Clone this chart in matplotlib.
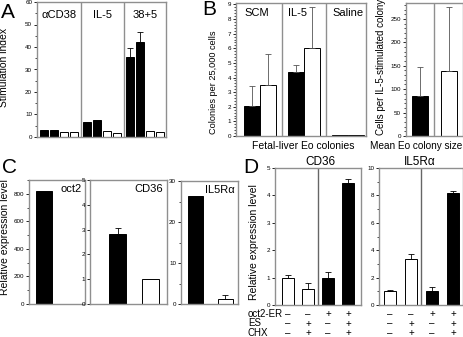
import numpy as np
import matplotlib.pyplot as plt
from matplotlib.ticker import MultipleLocator

plt.rcParams['font.family'] = ['Liberation Sans', 'DejaVu Sans']

# ---- data ----
# A: stimulation index, 3 conditions x 4 samples (2 black, 2 white)
a_groups = ['\u03b1CD38', 'IL-5', '38+5']
a_values = [3.0, 3.2, 2.2, 2.0, 6.5, 7.5, 2.8, 1.8, 35.5, 42.0, 2.7, 2.3]
a_err_top = [0, 0, 0, 0, 0, 0, 0, 0, 39.5, 46.5, 0, 0]
a_fill = ['k', 'k', 'w', 'w'] * 3

# B left: fetal-liver Eo colonies per 25,000 cells
b_groups = ['SCM', 'IL-5', 'Saline']
b_black = [2.05, 4.4, 0.05]
b_black_err = [3.45, 4.85, 0.05]
b_white = [3.5, 6.0, 0.05]
b_white_err = [5.6, 8.8, 0.05]

# B right: mean Eo colony size
b2_values = [85, 138]
b2_err_top = [148, 275]

# C: relative expression level
c_titles = ['oct2', 'CD36', 'IL5R\u03b1']
c_values = [[820, 0], [2.83, 1.0], [26.3, 1.2]]
c_err_top = [[0, 0], [3.05, 0], [0, 2.2]]

# D: relative expression level with oct2-ER / ES / CHX
d_titles = ['CD36', 'IL5R\u03b1']
d_values = [[1.0, 0.6, 1.0, 4.45], [1.0, 3.35, 1.0, 8.2]]
d_err_top = [[1.1, 0.8, 1.2, 4.6], [1.1, 3.7, 1.35, 8.35]]
d_fill = ['w', 'w', 'k', 'k']
d_rows = ['oct2-ER', 'ES', 'CHX']
d_signs = [['\u2013', '\u2013', '+', '+'],
           ['\u2013', '+', '\u2013', '+'],
           ['\u2013', '+', '\u2013', '+']]

W, H = 464, 337
fig = plt.figure(figsize=(W / 100, H / 100), dpi=100)
FRAME = '#8f8f8f'


def px_axes(left, top, right, bottom):
    return fig.add_axes([left / W, 1 - bottom / H, (right - left) / W, (bottom - top) / H])


def ftext(x, y, s, **kw):
    return fig.text(x / W, 1 - y / H, s, **kw)


def style(ax, ymax, major, minor=None):
    ax.set_ylim(0, ymax)
    ax.yaxis.set_major_locator(MultipleLocator(major))
    if minor:
        ax.yaxis.set_minor_locator(MultipleLocator(minor))
    ax.tick_params(axis='y', which='major', length=2.5, width=0.6, labelsize=4.5, pad=1)
    ax.tick_params(axis='y', which='minor', length=1.5, width=0.5)
    ax.set_xticks([])
    for s in ax.spines.values():
        s.set_color(FRAME)
        s.set_linewidth(1.0)


def bars(ax, x, vals, fill, width, err=None, ecolor='k', cap=2.0):
    ax.bar(x, vals, width, color=fill, edgecolor='k', linewidth=0.7, zorder=2)
    if err is not None:
        vals = np.asarray(vals, float)
        up = np.clip(np.asarray(err, float) - vals, 0, None)
        m = up > 0
        if m.any():
            ax.errorbar(np.asarray(x)[m], vals[m], yerr=[np.zeros(m.sum()), up[m]],
                        fmt='none', ecolor=ecolor, elinewidth=0.6, capsize=cap,
                        capthick=0.6, zorder=3)


# ---- A ----
ax = px_axes(37, 2, 166, 137)
xa = np.array([g * 4.3 + j for g in range(3) for j in range(4)])
bars(ax, xa, a_values, a_fill, 0.85, a_err_top, cap=2.5)
ax.set_xlim(-0.7, 12.2)
style(ax, 60, 10, 5)
for d in (3.65, 7.95):
    ax.axvline(d, color=FRAME, lw=1.0)
for g, name in enumerate(a_groups):
    ax.text(g * 4.3 + 1.5, 0.9, name, transform=ax.get_xaxis_transform(),
            ha='center', va='center', fontsize=8)
ftext(4.5, 67, 'Stimulation index', rotation=90, ha='center', va='center', fontsize=7.5)

# ---- B left ----
ax = px_axes(236, 3, 366, 136)
xb = np.arange(len(b_groups))
bars(ax, xb - 0.18, b_black, 'k', 0.36, b_black_err, ecolor='#555555', cap=2.0)
bars(ax, xb + 0.18, b_white, 'w', 0.36, b_white_err, ecolor='#555555', cap=2.0)
ax.set_xlim(-0.545, 2.41)
style(ax, 9.1, 1, 0.2)
for d in (0.5, 1.5):
    ax.axvline(d, color=FRAME, lw=1.0)
for g, name in enumerate(b_groups):
    ax.text(g - 0.36, 0.925, name, transform=ax.get_xaxis_transform(),
            ha='left', va='center', fontsize=8)
ftext(214, 82, 'Colonies per 25,000 cells', rotation=90, ha='center', va='center', fontsize=6.6)
ftext(303, 146, 'Fetal-liver Eo colonies', ha='center', va='center', fontsize=7.5)

# ---- B right ----
ax = px_axes(406, 3, 463, 136)
bars(ax, [0, 1], b2_values, ['k', 'w'], 0.55, b2_err_top, ecolor='#555555', cap=2.0)
ax.set_xlim(-0.48, 1.48)
style(ax, 284, 50, 10)
ax.axvline(0.5, color=FRAME, lw=1.0)
ftext(381, 67, 'Cells per IL-5-stimulated colony', rotation=90, ha='center', va='center', fontsize=7)
ftext(462, 146, 'Mean Eo colony size', ha='right', va='center', fontsize=7.2)

# ---- C ----
c_boxes = [(29, 180, 85, 304), (90, 180, 167, 304), (181, 181, 238, 304)]
c_xlim = [(-0.54, 1.46), (-0.85, 1.52), (-0.48, 1.42)]
c_width = [0.57, 0.52, 0.5]
c_ylim = [(900, 200, 100), (5, 1, None), (30, 10, 5)]
for i in range(3):
    ax = px_axes(*c_boxes[i])
    bars(ax, [0, 1], c_values[i], ['k', 'w'], c_width[i], c_err_top[i], cap=2.0)
    ax.set_xlim(*c_xlim[i])
    style(ax, *c_ylim[i])
    ax.text(0.95, 0.93, c_titles[i], transform=ax.transAxes, ha='right', va='center', fontsize=8)
ftext(5, 237, 'Relative expression level', rotation=90, ha='center', va='center', fontsize=7.5)

# ---- D ----
d_boxes = [(275, 168, 361, 305), (379, 168, 463, 305)]
d_xlim = [(-0.65, 3.65), (-0.52, 3.48)]
d_width = [0.6, 0.57]
d_ylim = [(5, 1, None), (10, 2, 1)]
d_title_x = [320, 420]
for i in range(2):
    ax = px_axes(*d_boxes[i])
    xd = np.arange(4)
    bars(ax, xd, d_values[i], d_fill, d_width[i], d_err_top[i], cap=2.0)
    ax.set_xlim(*d_xlim[i])
    style(ax, *d_ylim[i])
    ax.axvline(1.5, color='#666666', lw=1.0)
    ftext(d_title_x[i], 162, d_titles[i], ha='center', va='center', fontsize=8.5)
    for r, row in enumerate(d_signs):
        for j, s in enumerate(row):
            ax.text(j, -(9 + 9.5 * r) / 137 * d_ylim[i][0], s, ha='center', va='center',
                    fontsize=7, clip_on=False)
ftext(254, 242, 'Relative expression level', rotation=90, ha='center', va='center', fontsize=7.5)
for r, row in enumerate(d_rows):
    ftext(248, 314 + 9.5 * r, row, ha='left', va='center', fontsize=7)

# ---- panel letters ----
for letter, (x, y) in zip('ABCD', [(1, 18), (202, 15), (2, 173), (243, 173)]):
    ftext(x, y, letter, ha='left', va='baseline', fontsize=15)

fig.savefig('out.png', dpi=100)
